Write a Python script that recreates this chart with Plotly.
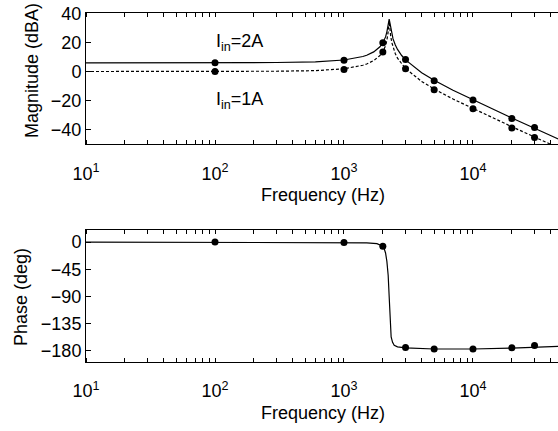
import plotly.graph_objects as go

# ---------------- data ----------------
freq_curve = [10, 100, 300, 600, 1000, 1400, 1500, 1700, 1800, 1900, 2000, 2050, 2100,
              2150, 2180, 2200, 2240, 2270, 2300, 2350, 2400, 2500, 2600, 2800, 3000,
              4000, 5000, 7000, 10000, 15000, 20000, 30000, 50000]
mag_2A_curve = [6.0, 6.0, 6.2, 6.6, 7.9, 10.3, 11.2, 13.5, 15.0, 17.0, 19.8, 21.6, 23.8,
                27.3, 30.0, 32.4, 36.0, 33.4, 30.0, 25.5, 22.4, 18.2, 15.2, 11.0, 8.0,
                -0.8, -6.0, -12.9, -19.5, -26.8, -31.9, -39.0, -47.9]
mag_1A_curve = [0.0, 0.0, 0.2, 0.6, 1.9, 4.3, 5.2, 7.5, 9.0, 11.0, 13.6, 15.6, 17.8,
                21.5, 24.2, 27.2, 34.5, 28.5, 24.5, 19.8, 16.6, 12.2, 9.2, 5.0, 2.0,
                -6.8, -12.0, -18.9, -25.5, -32.8, -37.9, -45.0, -53.9]

freq_phase = [10, 100, 1000, 1500, 1800, 1950, 2000, 2050, 2100, 2150, 2200, 2240,
              2280, 2320, 2380, 2450, 2600, 3000, 5000, 10000, 20000, 30000, 50000]
phase_curve = [0.0, 0.0, -0.5, -1.2, -2.5, -5.0, -7.0, -11.0, -18.0, -32.0, -55.0, -90.0,
               -140.0, -157.0, -166.0, -171.0, -173.5, -175.0, -177.0, -177.0, -175.5,
               -174.5, -172.5]

freq_marks = [100, 1000, 2000, 3000, 5000, 10000, 20000, 30000]
mag_2A_marks = [6.0, 7.7, 19.7, 8.2, -6.3, -19.5, -32.3, -38.5]
mag_1A_marks = [0.0, 1.4, 13.4, 1.9, -12.5, -25.6, -38.8, -45.3]
phase_marks = [0.0, -0.7, -7.0, -174.4, -177.0, -177.0, -175.0, -171.0]

x_tickvals = [10, 100, 1000, 10000]
x_ticktext = ["10<sup>1</sup>", "10<sup>2</sup>", "10<sup>3</sup>", "10<sup>4</sup>"]
mag_ticks = [-40, -20, 0, 20, 40]
phase_ticks = [0, -45, -90, -135, -180]

# log-axis tick marks at every 1..9 x 10^n (tick positions, not data)
x_minor_ticks = [m * 10 ** d for d in range(1, 5) for m in range(1, 10)]

# ---------------- layout helpers ----------------
W, H = 558, 431
FONT = "Liberation Sans, Arial, sans-serif"
FS = 18


def px(x):
    return x / W


def py(y):
    return 1 - y / H


fig = go.Figure()

line_k = dict(color="black", width=1.2)
mk = dict(color="black", size=7, symbol="circle")

fig.add_trace(go.Scatter(x=freq_curve, y=mag_2A_curve, mode="lines", line=line_k,
                         xaxis="x", yaxis="y", showlegend=False))
fig.add_trace(go.Scatter(x=freq_curve, y=mag_1A_curve, mode="lines",
                         line=dict(color="black", width=1.2, dash="3px,2px"),
                         xaxis="x", yaxis="y", showlegend=False))
fig.add_trace(go.Scatter(x=freq_marks, y=mag_2A_marks, mode="markers", marker=mk,
                         xaxis="x", yaxis="y", showlegend=False))
fig.add_trace(go.Scatter(x=freq_marks, y=mag_1A_marks, mode="markers", marker=mk,
                         xaxis="x", yaxis="y", showlegend=False))

fig.add_trace(go.Scatter(x=freq_phase, y=phase_curve, mode="lines", line=line_k,
                         xaxis="x2", yaxis="y2", showlegend=False))
fig.add_trace(go.Scatter(x=freq_marks, y=phase_marks, mode="markers", marker=mk,
                         xaxis="x2", yaxis="y2", showlegend=False))

xcommon = dict(type="log", range=[1, 4.659], tickvals=x_tickvals, ticktext=x_ticktext,
               ticks="outside", ticklen=13, tickcolor="rgba(0,0,0,0)", showline=True,
               linecolor="black", linewidth=1, mirror="ticks", showgrid=False,
               zeroline=False, tickfont=dict(size=FS, color="black", family=FONT),
               automargin=False,
               minor=dict(ticks="inside", ticklen=4, tickcolor="black", tickmode="array",
                          tickvals=x_minor_ticks, showgrid=False))
ycommon = dict(ticks="inside", ticklen=5, tickcolor="black", showline=True,
               linecolor="black", linewidth=1, mirror=False, showgrid=False,
               zeroline=False, tickfont=dict(size=FS, color="black", family=FONT),
               automargin=False)

fig.update_layout(
    template="none",
    width=W, height=H,
    margin=dict(l=0, r=0, t=0, b=0, pad=0),
    paper_bgcolor="white", plot_bgcolor="white",
    font=dict(family=FONT, size=FS, color="black"),
    xaxis=dict(domain=[px(86), 1], anchor="y", **xcommon),
    yaxis=dict(domain=[py(144.3), py(13.3)], anchor="x", range=[-50, 40],
               tickvals=mag_ticks, **ycommon),
    xaxis2=dict(domain=[px(86), 1], anchor="y2", **xcommon),
    yaxis2=dict(domain=[py(361.7), py(230)], anchor="x2", range=[-198, 20],
                tickvals=phase_ticks, **ycommon),
)

ann = [
    dict(text="Magnitude (dBA)", x=px(32), y=py(71), textangle=-90),
    dict(text="Phase (deg)", x=px(21), y=py(297), textangle=-90),
    dict(text="Frequency (Hz)", x=px(323), y=py(195)),
    dict(text="Frequency (Hz)", x=px(323), y=py(413)),
    dict(text="I<sub>in</sub>=2A", x=px(214), y=py(43), xanchor="left"),
    dict(text="I<sub>in</sub>=1A", x=px(214), y=py(100), xanchor="left"),
]
for a in ann:
    a.setdefault("xanchor", "center")
    fig.add_annotation(xref="paper", yref="paper", showarrow=False, yanchor="middle",
                       font=dict(family=FONT, size=FS, color="black"), **a)

fig.write_html("out.html")
